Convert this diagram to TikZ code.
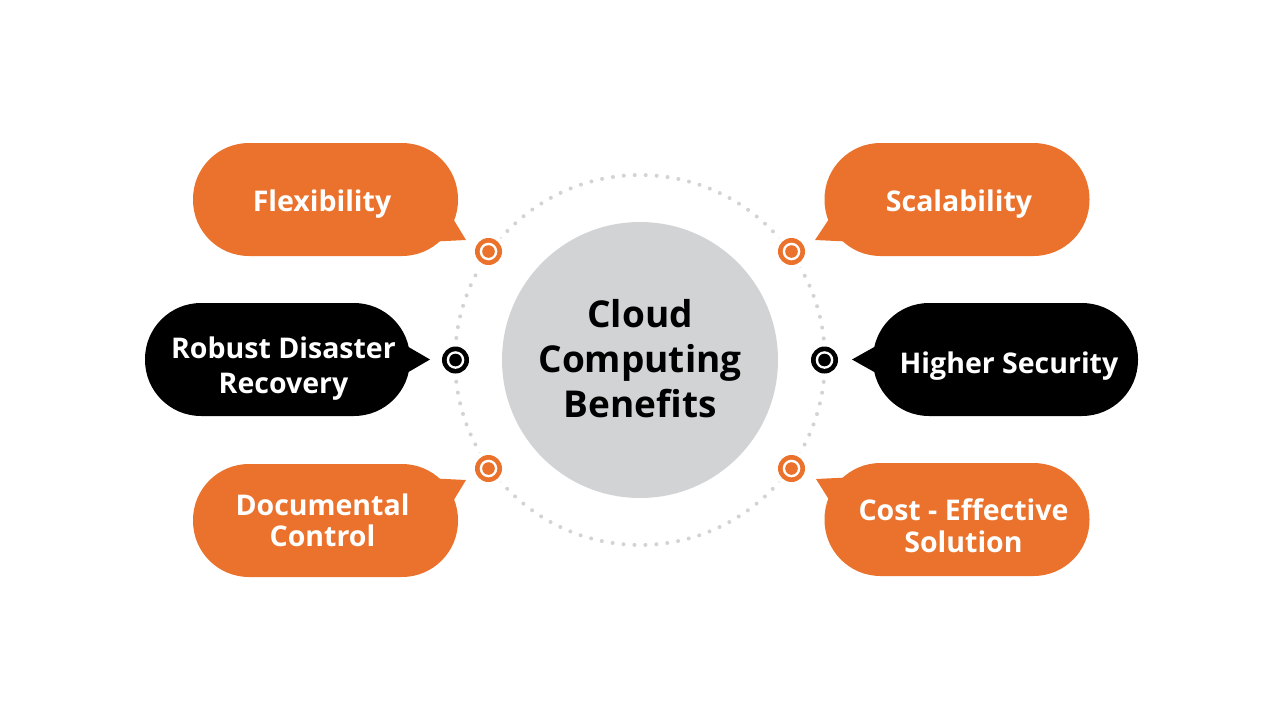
\documentclass[tikz,border=0pt]{standalone}
\usepackage{fontspec}
\setmainfont{Open Sans}
\usepackage{tikz}
\usetikzlibrary{calc}
\definecolor{benefitorange}{HTML}{EB722C}
\definecolor{hubgray}{HTML}{D1D3D4}

\begin{document}
\begin{tikzpicture}[x=1pt,y=-1pt,
  bubble/.style={rounded corners=56pt,minimum width=265pt,minimum height=113pt,inner sep=0pt},
  bubbletext/.style={anchor=base,inner sep=0pt,text=white,font=\fontsize{28.5}{32}\selectfont\bfseries},
  hub/.style={circle,fill=hubgray,minimum size=276pt,inner sep=0pt},
  hubtext/.style={anchor=base,inner sep=0pt,font=\fontsize{37}{45}\selectfont\bfseries}]
\useasboundingbox (0,0) rectangle (1280,720);
% dotted ring round the hub
\draw[hubgray,line width=4pt,line cap=round,dash pattern=on 0pt off 10.97pt] (640,360) circle (185);
\node[hub] (hub) at (640,360) {};
\node[hubtext] (hubA) at (640,327) {Cloud};
\node[hubtext] (hubB) at (640,372.5) {Computing};
\node[hubtext] (hubC) at (640,417) {Benefits};

% speech bubbles
\node[bubble,fill=benefitorange] (flex) at (325.5,199.5) {};
\node[bubble,fill=benefitorange] (scal) at (957,199.5) {};
\node[bubble,fill=black] (robust) at (277.5,359.5) {};
\node[bubble,fill=black] (secure) at (1005.5,359.5) {};
\node[bubble,fill=benefitorange] (docu) at (325.5,520.5) {};
\node[bubble,fill=benefitorange] (cost) at (957,519.5) {};

% tails
\fill[benefitorange] ($(flex)+(125,15)$) -- ($(flex)+(140.5,40.5)$) -- ($(flex)+(110,42)$) -- cycle;
\fill[benefitorange] ($(scal)+(-125,15)$) -- ($(scal)+(-142,40.5)$) -- ($(scal)+(-110,42)$) -- cycle;
\fill[benefitorange] ($(docu)+(125,-15)$) -- ($(docu)+(140.5,-40.5)$) -- ($(docu)+(110,-42)$) -- cycle;
\fill[benefitorange] ($(cost)+(-125,-15)$) -- ($(cost)+(-141,-40.5)$) -- ($(cost)+(-110,-42)$) -- cycle;
\fill[black] ($(robust)+(125,-16)$) -- ($(robust)+(152.5,0)$) -- ($(robust)+(125,16)$) -- cycle;
\fill[black] ($(secure)+(-125,-16)$) -- ($(secure)+(-153.5,0)$) -- ($(secure)+(-125,16)$) -- cycle;

% bubble texts
\node[bubbletext] (flexA) at (322,211) {Flexibility};
\node[bubbletext] (scalA) at (959,211) {Scalability};
\node[bubbletext] (robustA) at (283.5,358) {Robust Disaster};
\node[bubbletext] (robustB) at (283.5,393) {Recovery};
\node[bubbletext] (secureA) at (1009,373.5) {Higher Security};
\node[bubbletext] (docuA) at (322.5,515) {Documental};
\node[bubbletext] (docuB) at (322.5,546) {Control};
\node[bubbletext] (costA) at (963.5,520) {Cost - Effective};
\node[bubbletext] (costB) at (963.5,552) {Solution};

% markers on the ring
\foreach \mx/\my/\mcol/\mname in {488.5/251.5/benefitorange/mflex, 791.5/251.5/benefitorange/mscal,
    455.5/360/black/mrobust, 824.5/360/black/msecure,
    488.5/468.5/benefitorange/mdocu, 791.5/468.5/benefitorange/mcost}
{
  \coordinate (\mname) at (\mx,\my);
  \fill[white] (\mname) circle (18);
  \fill[\mcol] (\mname) circle (13.5);
  \fill[white] (\mname) circle (8.8);
  \fill[\mcol] (\mname) circle (6.3);
}
\end{tikzpicture}
\end{document}
